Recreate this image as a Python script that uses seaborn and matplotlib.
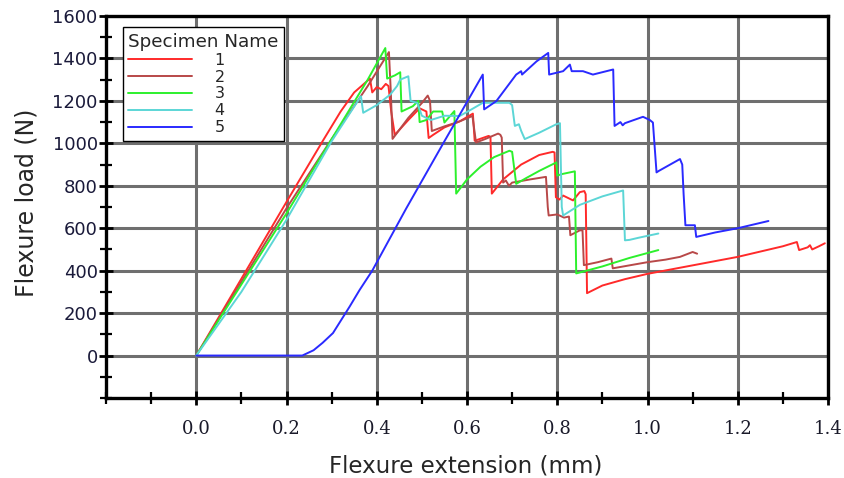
import numpy as np
import pandas as pd
import matplotlib
matplotlib.use("Agg")
import matplotlib.pyplot as plt
import seaborn as sns
from matplotlib.ticker import MultipleLocator

# ---- data ----
s1_x = [0, 0.10, 0.20, 0.28, 0.32, 0.35, 0.385, 0.39, 0.40, 0.41, 0.42, 0.426, 0.432, 0.44, 0.47, 0.495,
        0.51, 0.515, 0.525, 0.55, 0.585, 0.613, 0.617, 0.648, 0.652, 0.655, 0.68, 0.72, 0.76, 0.79, 0.794,
        0.797, 0.805, 0.813, 0.835, 0.85, 0.86, 0.863, 0.866, 0.90, 0.95, 1.0, 1.05, 1.10, 1.15, 1.20, 1.25,
        1.30, 1.331, 1.336, 1.355, 1.36, 1.365, 1.38, 1.393]
s1_y = [0, 362, 724, 1010, 1150, 1240, 1305, 1240, 1265, 1255, 1280, 1270, 1150, 1040, 1110, 1165,
        1150, 1025, 1040, 1075, 1105, 1140, 1012, 1035, 1030, 763, 830, 900, 945, 960, 957,
        746, 735, 754, 731, 770, 775, 760, 294, 330, 360, 385, 405, 425, 445, 465, 490,
        515, 535, 497, 510, 520, 500, 515, 529]

s2_x = [0, 0.1, 0.2, 0.3, 0.38, 0.427, 0.431, 0.435, 0.47, 0.50, 0.513, 0.518, 0.522, 0.55, 0.58, 0.612,
        0.62, 0.64, 0.669, 0.674, 0.677, 0.68, 0.686, 0.693, 0.70, 0.74, 0.775, 0.779, 0.781, 0.80, 0.815,
        0.826, 0.829, 0.85, 0.856, 0.859, 0.89, 0.92, 0.923, 0.96, 1.0, 1.04, 1.072, 1.10, 1.11]
s2_y = [0, 347, 694, 1020, 1270, 1430, 1250, 1021, 1120, 1190, 1225, 1200, 1058, 1080, 1100, 1129,
        1004, 1020, 1046, 1040, 1027, 815, 825, 800, 815, 830, 842, 700, 660, 665, 650,
        655, 567, 590, 590, 426, 440, 457, 411, 425, 440, 452, 465, 488, 480]

s3_x = [0, 0.1, 0.2, 0.3, 0.38, 0.419, 0.423, 0.44, 0.452, 0.455, 0.48, 0.492, 0.495, 0.51, 0.525, 0.545,
        0.55, 0.572, 0.576, 0.60, 0.63, 0.66, 0.694, 0.70, 0.709, 0.73, 0.76, 0.798, 0.80, 0.81, 0.839,
        0.842, 0.90, 0.96, 1.024]
s3_y = [0, 335, 670, 1020, 1300, 1449, 1305, 1320, 1335, 1150, 1175, 1200, 1100, 1110, 1150, 1150,
        1098, 1152, 763, 830, 890, 935, 965, 960, 809, 835, 870, 910, 848, 855, 868,
        387, 420, 460, 497]

s4_x = [0, 0.1, 0.2, 0.3, 0.365, 0.37, 0.40, 0.43, 0.445, 0.452, 0.47, 0.475, 0.49, 0.50, 0.52, 0.55,
        0.584, 0.61, 0.635, 0.66, 0.694, 0.70, 0.706, 0.715, 0.72, 0.728, 0.76, 0.798, 0.806, 0.81, 0.813,
        0.85, 0.90, 0.946, 0.95, 0.96, 0.98, 1.024]
s4_y = [0, 300, 640, 1010, 1222, 1144, 1180, 1230, 1270, 1300, 1316, 1200, 1190, 1130, 1110, 1130,
        1129, 1160, 1191, 1191, 1191, 1180, 1082, 1090, 1059, 1020, 1050, 1090, 1095, 700, 660,
        710, 750, 778, 543, 545, 555, 575]

s5_x = [0, 0.235, 0.26, 0.28, 0.303, 0.34, 0.362, 0.39, 0.465, 0.55, 0.635, 0.638, 0.665, 0.709, 0.72,
        0.722, 0.754, 0.78, 0.782, 0.813, 0.828, 0.832, 0.857, 0.879, 0.924, 0.927, 0.94, 0.945, 0.95, 0.99,
        1.005, 1.012, 1.02, 1.025, 1.072, 1.077, 1.08, 1.084, 1.105, 1.108, 1.15, 1.20, 1.268]
s5_y = [0, 0, 25, 60, 106, 231, 309, 400, 692, 1010, 1324, 1160, 1199, 1324, 1340,
        1324, 1386, 1426, 1324, 1340, 1371, 1340, 1340, 1324, 1348, 1082, 1100, 1085, 1095, 1125,
        1110, 1098, 863, 870, 926, 900, 762, 614, 614, 559, 580, 600, 634]

specimens = ["1", "2", "3", "4", "5"]
colors = ["#ff2a2a", "#b84848", "#2cf02c", "#5cd6d6", "#2a2aff"]
x_ticks = [0.0, 0.2, 0.4, 0.6, 0.8, 1.0, 1.2, 1.4]
y_ticks = [0, 200, 400, 600, 800, 1000, 1200, 1400, 1600]

frames = []
for name, xs, ys in zip(specimens, [s1_x, s2_x, s3_x, s4_x, s5_x], [s1_y, s2_y, s3_y, s4_y, s5_y]):
    frames.append(pd.DataFrame({"ext": xs, "load": ys, "Specimen": name}))
df = pd.concat(frames, ignore_index=True)

sns.set_style("white")
plt.rcParams['font.family'] = ['DejaVu Sans']

fig = plt.figure(figsize=(8.44, 4.78), dpi=100)
ax = fig.add_axes([106/844, 1-398/478, (828-106)/844, (398-16)/478])

sns.lineplot(data=df, x="ext", y="load", hue="Specimen", hue_order=specimens,
             palette=dict(zip(specimens, colors)), sort=False, estimator=None,
             linewidth=1.4, ax=ax, legend=True, zorder=3)

ax.set_xlim(-0.2, 1.4)
ax.set_ylim(-200, 1600)
ax.set_xticks(x_ticks)
ax.set_xticklabels([f"{t:.1f}" for t in x_ticks], family="DejaVu Serif", fontsize=13, color="#1a1a2a")
ax.set_yticks(y_ticks)
ax.set_yticklabels([str(t) for t in y_ticks], fontsize=13, color="#1a1a3a")
ax.xaxis.set_minor_locator(MultipleLocator(0.1))
ax.yaxis.set_minor_locator(MultipleLocator(100))

ax.grid(True, which="major", color="#6f6f6f", linewidth=2.2, zorder=1)
ax.set_axisbelow(True)
ax.tick_params(which="both", bottom=True, left=True, top=False, right=False)
ax.tick_params(which="major", direction="inout", length=10, width=2, color="black")
ax.tick_params(which="minor", direction="inout", length=8, width=1.6, color="black")
ax.tick_params(axis="x", which="major", pad=11)
ax.tick_params(axis="y", which="major", pad=1)

for side in ["left", "bottom", "top", "right"]:
    ax.spines[side].set_color("black")
    ax.spines[side].set_linewidth(2.4)
    ax.spines[side].set_visible(True)

ax.set_xlabel("Flexure extension (mm)", fontsize=16.5)
ax.set_ylabel("Flexure load (N)", fontsize=17)
ax.xaxis.set_label_coords(0.4986, -0.147)
ax.yaxis.set_label_coords(-0.094, 0.51)

handles, labels = ax.get_legend_handles_labels()
leg = ax.legend(handles, labels, title="Specimen Name", loc="upper left",
                bbox_to_anchor=(0.023, 0.971), fontsize=11.5, title_fontsize=13.2,
                frameon=True, fancybox=False, edgecolor="black", framealpha=1,
                handlelength=4.0, handletextpad=1.4, labelspacing=0.12,
                borderpad=0.35, borderaxespad=0, alignment="left")
leg.get_frame().set_linewidth(1.0)
for line in leg.get_lines():
    line.set_linewidth(1.4)

fig.savefig("out.png", dpi=100)
